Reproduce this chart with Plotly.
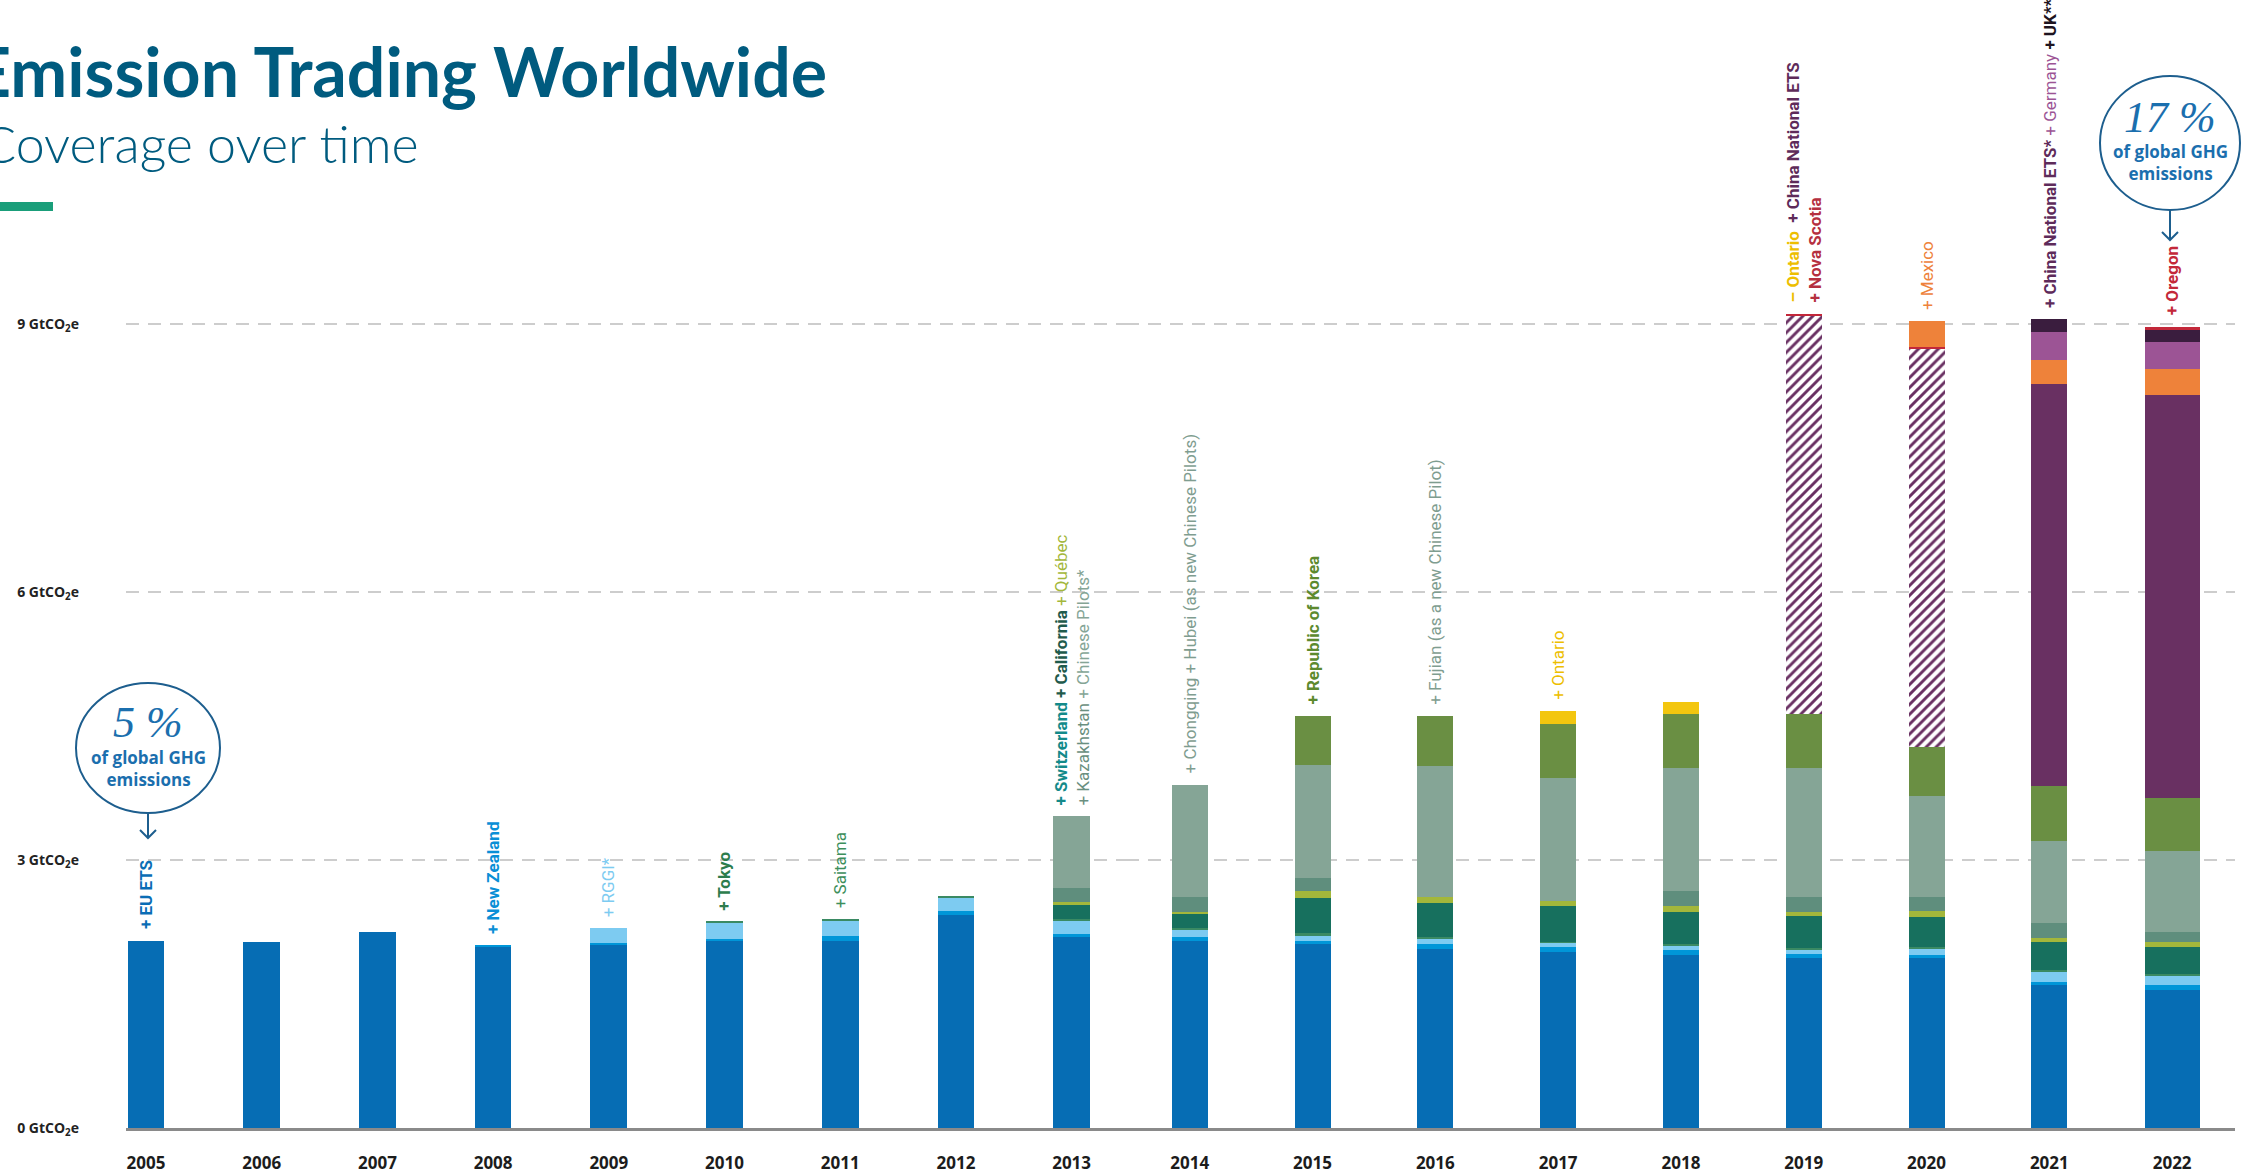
import plotly.graph_objects as go

# ---------------- data ----------------
years = [2005, 2006, 2007, 2008, 2009, 2010, 2011, 2012, 2013,
         2014, 2015, 2016, 2017, 2018, 2019, 2020, 2021, 2022]
year_labels = [str(y) for y in years]

eu_ets = [2.10, 2.08, 2.20, 2.03, 2.06, 2.09, 2.10, 2.385, 2.14, 2.10, 2.06, 2.005, 1.975, 1.94, 1.90, 1.90, 1.60, 1.55]
new_zealand = [0, 0, 0, 0.015, 0.015, 0.03, 0.05, 0.05, 0.03, 0.035, 0.04, 0.055, 0.055, 0.05, 0.054, 0.04, 0.03, 0.05]
rggi = [0, 0, 0, 0, 0.16, 0.18, 0.17, 0.15, 0.15, 0.085, 0.055, 0.06, 0.045, 0.053, 0.05, 0.07, 0.12, 0.11]
tokyo_saitama_switzerland = [0, 0, 0, 0, 0, 0.01, 0.02, 0.015, 0.02, 0.015, 0.025, 0.02, 0.01, 0.017, 0.015, 0.015, 0.015, 0.015]
california = [0, 0, 0, 0, 0, 0, 0, 0, 0.16, 0.17, 0.40, 0.38, 0.40, 0.36, 0.35, 0.34, 0.315, 0.305]
quebec = [0, 0, 0, 0, 0, 0, 0, 0, 0.03, 0.015, 0.07, 0.065, 0.057, 0.069, 0.05, 0.07, 0.045, 0.05]
kazakhstan = [0, 0, 0, 0, 0, 0, 0, 0, 0.16, 0.17, 0.155, 0, 0, 0.161, 0.165, 0.155, 0.175, 0.12]
chinese_pilots = [0, 0, 0, 0, 0, 0, 0, 0, 0.80, 1.255, 1.265, 1.47, 1.383, 1.382, 1.453, 1.124, 0.91, 0.905]
korea = [0, 0, 0, 0, 0, 0, 0, 0, 0, 0, 0.55, 0.565, 0.602, 0.603, 0.603, 0.549, 0.62, 0.595]
ontario = [0, 0, 0, 0, 0, 0, 0, 0, 0, 0, 0, 0, 0.141, 0.14, 0, 0, 0, 0]
china_national_pending = [0, 0, 0, 0, 0, 0, 0, 0, 0, 0, 0, 0, 0, 0, 4.46, 4.47, 0, 0]
china_national = [0, 0, 0, 0, 0, 0, 0, 0, 0, 0, 0, 0, 0, 0, 0, 0, 4.505, 4.51]
nova_scotia = [0, 0, 0, 0, 0, 0, 0, 0, 0, 0, 0, 0, 0, 0, 0.02, 0.015, 0, 0]
mexico = [0, 0, 0, 0, 0, 0, 0, 0, 0, 0, 0, 0, 0, 0, 0, 0.29, 0.265, 0.29]
germany = [0, 0, 0, 0, 0, 0, 0, 0, 0, 0, 0, 0, 0, 0, 0, 0, 0.31, 0.30]
uk = [0, 0, 0, 0, 0, 0, 0, 0, 0, 0, 0, 0, 0, 0, 0, 0, 0.155, 0.14]
oregon = [0, 0, 0, 0, 0, 0, 0, 0, 0, 0, 0, 0, 0, 0, 0, 0, 0, 0.035]

y_tick_values = [0, 3, 6, 9]
y_tick_labels = ["0 GtCO<sub>2</sub>e", "3 GtCO<sub>2</sub>e", "6 GtCO<sub>2</sub>e", "9 GtCO<sub>2</sub>e"]

# ---------------- styling ----------------
W, H = 2244, 1174
series = [
    ("EU ETS", eu_ets, "#066DB4", False),
    ("New Zealand", new_zealand, "#0096D8", False),
    ("RGGI", rggi, "#7DCBF1", False),
    ("Tokyo / Saitama / Switzerland", tokyo_saitama_switzerland, "#3A8A63", False),
    ("California", california, "#17705E", False),
    ("Québec", quebec, "#A3B73B", False),
    ("Kazakhstan", kazakhstan, "#5F8E7D", False),
    ("Chinese Pilots", chinese_pilots, "#85A596", False),
    ("Republic of Korea", korea, "#6A8F43", False),
    ("Ontario", ontario, "#F3C60F", False),
    ("China National ETS (pending)", china_national_pending, "#693062", True),
    ("China National ETS", china_national, "#693062", False),
    ("Nova Scotia", nova_scotia, "#C3283A", False),
    ("Mexico", mexico, "#EE823A", False),
    ("Germany", germany, "#9C5495", False),
    ("UK", uk, "#3A1D3E", False),
    ("Oregon", oregon, "#C3283A", False),
]

split = 9
left_years, right_years = years[:split], years[split:]
left_w = [0.317] * len(left_years)
right_w = [0.293] * (len(right_years) - 1) + [0.45]

fig = go.Figure()
for name, vals, color, hatched in series:
    for xs, vs, xa, ya, w in [(left_years, vals[:split], "x", "y", left_w),
                              (right_years, vals[split:], "x2", "y2", right_w)]:
        if hatched:
            marker = dict(color="white", line=dict(width=0),
                          pattern=dict(shape="/", fgcolor=color, bgcolor="white",
                                       size=7, solidity=0.42, fillmode="replace"))
        else:
            marker = dict(color=color, line=dict(width=0))
        fig.add_trace(go.Bar(x=xs, y=vs, xaxis=xa, yaxis=ya, width=w, name=name,
                             marker=marker, showlegend=False))

totals = [sum(s[1][i] for s in series) for i in range(len(years))]

ydom = [1 - 1128 / H, 1 - 3 / H]
yrange = [0, 12.6]
label_font = "Roboto, Open Sans, sans-serif"
grid = dict(showgrid=True, gridcolor="#cdcdcd", gridwidth=1.5, griddash="13px,9px",
            zeroline=False, showline=False, ticks="", tickvals=y_tick_values, range=yrange,
            domain=ydom, fixedrange=True, automargin=False)
xcommon = dict(showgrid=False, showline=True, linecolor="#8a8a8a", linewidth=2.5, ticks="",
               tickfont=dict(family="Open Sans, sans-serif", size=17, color="#1c1c1c", weight=700),
               ticklabelstandoff=18, zeroline=False, automargin=False, fixedrange=True)

fig.update_layout(
    width=W, height=H, margin=dict(l=0, r=0, t=0, b=0, autoexpand=False),
    barmode="stack", bargap=0, plot_bgcolor="white", paper_bgcolor="white",
    showlegend=False,
    xaxis=dict(domain=[126 / W, 1126 / W], range=[2004.827, 2013.47], anchor="y",
               tickvals=left_years, ticktext=year_labels[:split], **xcommon),
    xaxis2=dict(domain=[1126 / W, 2235 / W], range=[2013.481, 2022.512], anchor="y2",
                tickvals=right_years, ticktext=year_labels[split:], **xcommon),
    yaxis=dict(anchor="x", ticktext=y_tick_labels, ticklabelstandoff=46,
               tickfont=dict(family="Open Sans, sans-serif", size=14, color="#222222", weight=700),
               **grid),
    yaxis2=dict(anchor="x2", showticklabels=False, **grid),
)

# ---------------- bar labels ----------------
def sp(color, text, bold=False):
    t = f"<b>{text}</b>" if bold else text
    return f'<span style="color:{color}">{t}</span>'

labels = {
    2005: sp("#0A6DB5", "+ EU ETS", True),
    2008: sp("#0A8FD6", "+ New Zealand", True),
    2009: sp("#7DCBF1", "+ RGGI*"),
    2010: sp("#2D7D4D", "+ Tokyo", True),
    2011: sp("#3D8F5C", "+ Saitama"),
    2013: sp("#138A8A", "+ Switzerland", True) + " " + sp("#1F5B4C", "+ California", True) + " " + sp("#A3B73B", "+ Québec")
          + "<br>" + sp("#6A8F80", "+ Kazakhstan") + " " + sp("#85A596", "+ Chinese Pilots*"),
    2014: sp("#7F9D90", "+ Chongqing + Hubei (as new Chinese Pilots)"),
    2015: sp("#5C8A2E", "+ Republic of Korea", True),
    2016: sp("#7F9D90", "+ Fujian (as a new Chinese Pilot)"),
    2017: sp("#EDBE00", "+ Ontario"),
    2019: sp("#EDBE00", "– Ontario", True) + "  " + sp("#5E2B5A", "+ China National ETS", True)
          + "<br>" + sp("#B5303F", "+ Nova Scotia", True),
    2020: sp("#EE823A", "+ Mexico"),
    2021: sp("#5E2B5A", "+ China National ETS*", True) + " " + sp("#9C5495", "+ Germany") + " " + sp("#1E1420", "+ UK**", True),
    2022: sp("#C3283A", "+ Oregon", True),
}

for i, yr in enumerate(years):
    if yr not in labels:
        continue
    left = yr < 2014
    fig.add_annotation(x=yr, y=totals[i], xref="x" if left else "x2", yref="y" if left else "y2",
                       text=labels[yr], showarrow=False, textangle=-90, xanchor="center",
                       yanchor="bottom", yshift=9, align="left",
                       font=dict(family=label_font, size=17, color="#555"))

# ---------------- titles & decorations ----------------
fig.add_annotation(xref="paper", yref="paper", x=829 / W, y=1 - 70 / H, xanchor="right", yanchor="middle",
                   text="Emission Trading Worldwide", showarrow=False,
                   font=dict(family="Lato, Open Sans, sans-serif", size=68, color="#005B7F", weight=700))
fig.add_annotation(xref="paper", yref="paper", x=421 / W, y=1 - 143 / H, xanchor="right", yanchor="middle",
                   text="Coverage over time", showarrow=False,
                   font=dict(family="Lato, Open Sans, sans-serif", size=52, color="#005B7F", weight=300))
fig.add_shape(type="rect", xref="paper", yref="paper", x0=0, x1=53 / W, y0=1 - 211 / H, y1=1 - 202 / H,
              fillcolor="#1A9E7A", line=dict(width=0))

def bubble(cx, cy, rx, ry, pct, arrow_len):
    circ = "#1D5E8E"
    fig.add_shape(type="circle", xref="paper", yref="paper",
                  x0=(cx - rx) / W, x1=(cx + rx) / W, y0=1 - (cy + ry) / H, y1=1 - (cy - ry) / H,
                  line=dict(color=circ, width=2))
    yb = cy + ry
    ye = yb + arrow_len
    path = (f"M {cx / W} {1 - yb / H} L {cx / W} {1 - ye / H} "
            f"M {(cx - 8) / W} {1 - (ye - 8) / H} L {cx / W} {1 - ye / H} L {(cx + 8) / W} {1 - (ye - 8) / H}")
    fig.add_shape(type="path", xref="paper", yref="paper", path=path, line=dict(color=circ, width=2))
    fig.add_annotation(xref="paper", yref="paper", x=cx / W, y=1 - (cy - 26) / H, text=pct, showarrow=False,
                       xanchor="center", yanchor="middle",
                       font=dict(family="Liberation Serif, DejaVu Serif, serif", size=44, color="#1B6FAE",
                                 style="italic"))
    fig.add_annotation(xref="paper", yref="paper", x=cx / W, y=1 - (cy + 20) / H,
                       text="of global GHG<br>emissions", showarrow=False,
                       xanchor="center", yanchor="middle",
                       font=dict(family="Open Sans, sans-serif", size=17, color="#1B6FAE", weight=700))

bubble(148, 748, 72, 65, "5 %", 25)
bubble(2170, 143, 70, 67, "17 %", 30)

fig.write_html("out.html", config={"displayModeBar": False},
               post_script="document.body.style.margin='0px';document.body.style.overflow='hidden';")
